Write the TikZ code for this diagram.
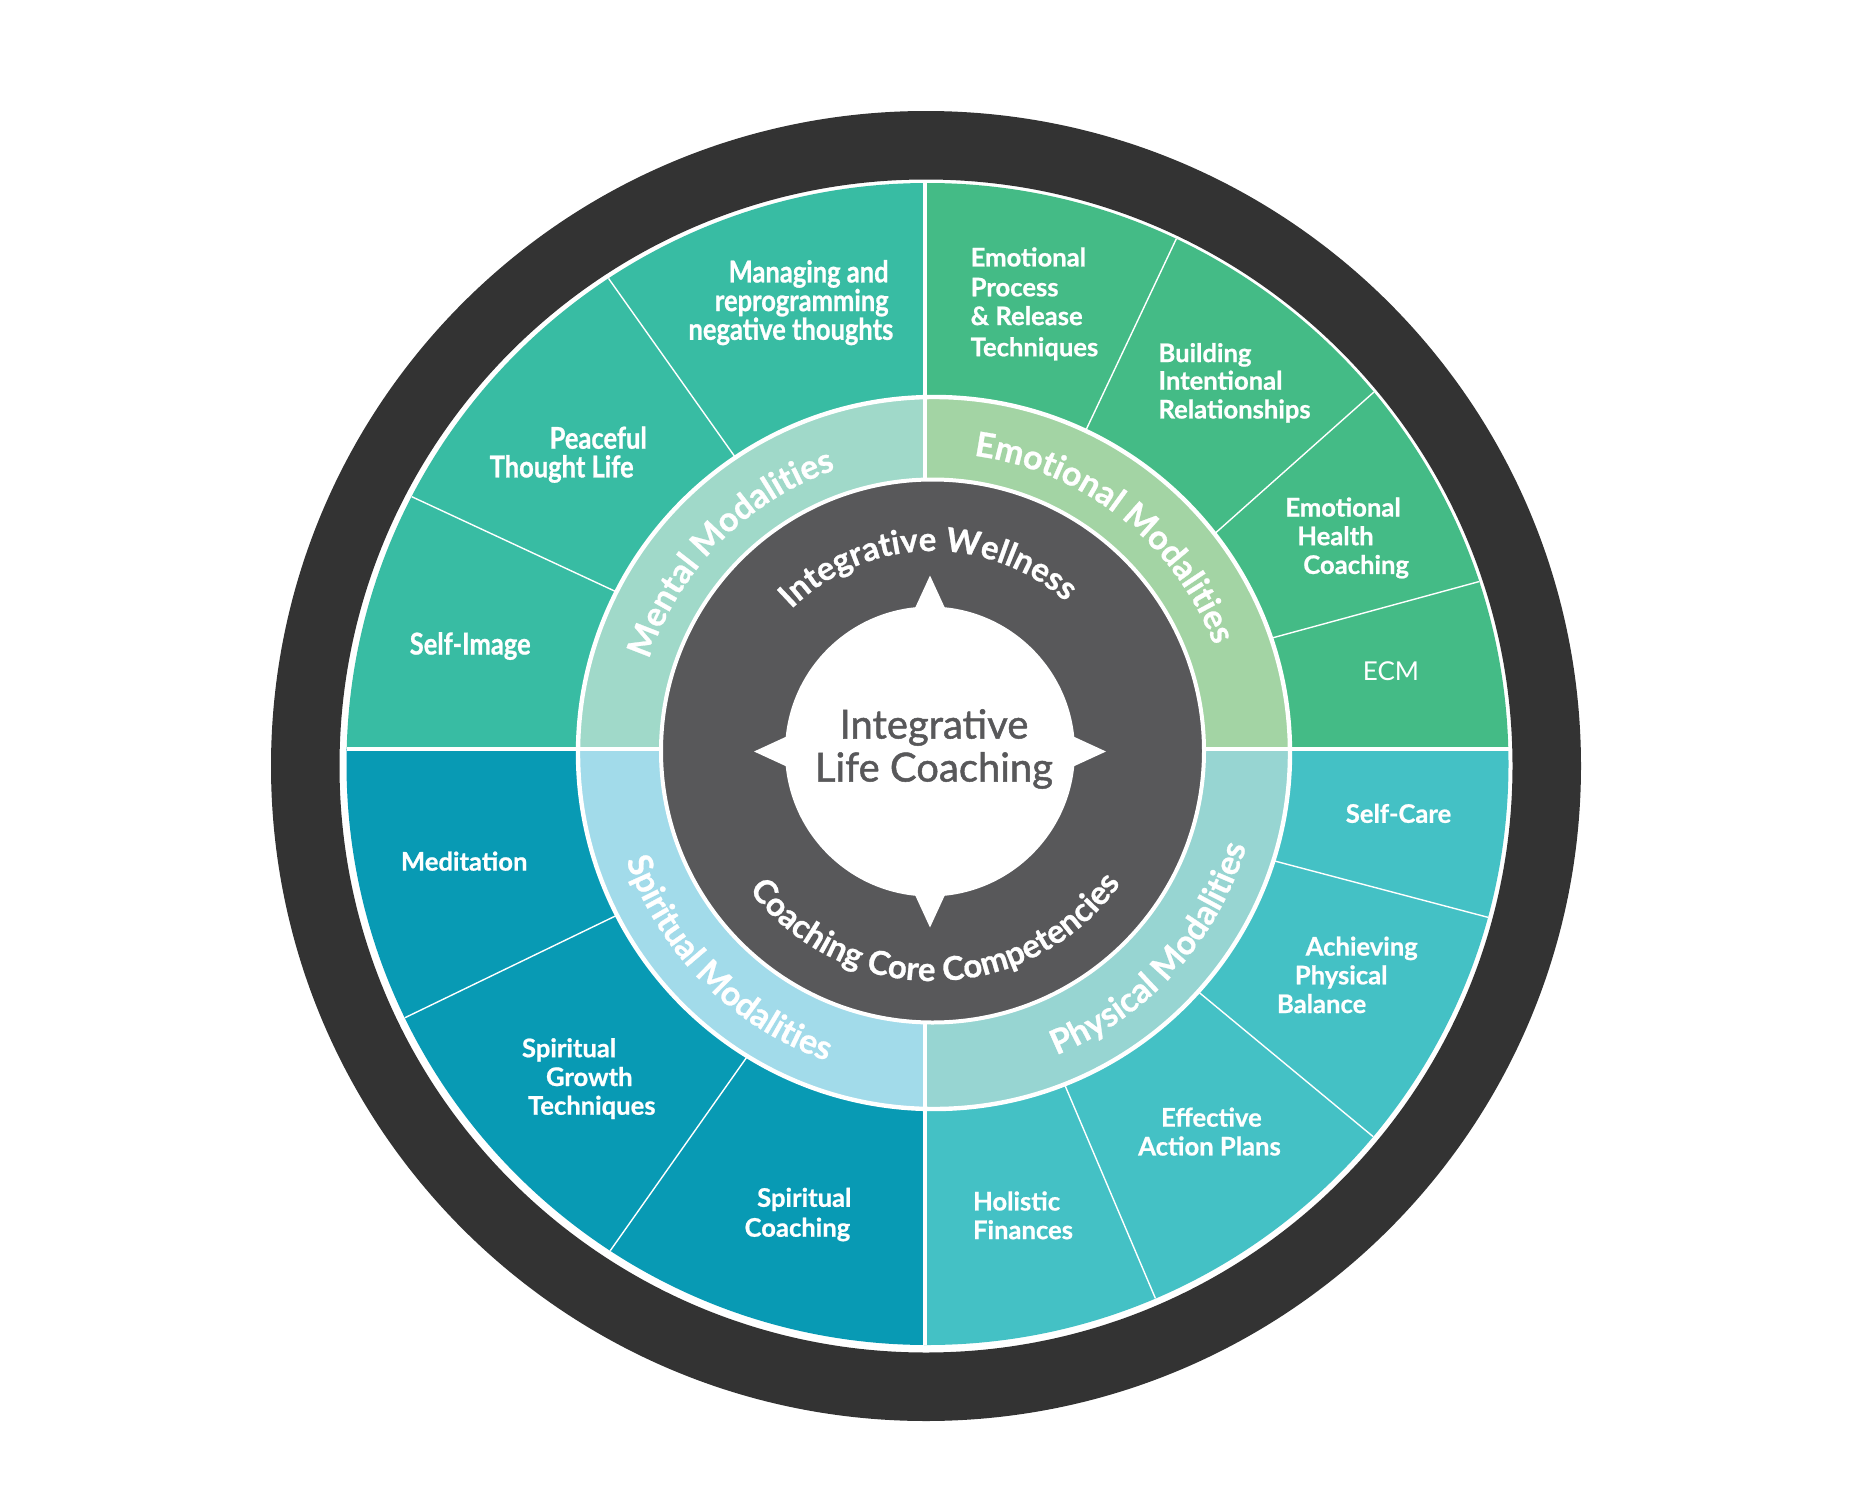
\documentclass[tikz,border=0pt]{standalone}
\usepackage{fontspec}
\setmainfont{Lato}[BoldFeatures={FakeBold=0.8}]
\newfontfamily\condfont{Lato}[FakeStretch=0.85, BoldFeatures={FakeBold=0.8}]
\newfontfamily\medfont{Lato}[FakeBold=1.2]
\usetikzlibrary{decorations.text}
\definecolor{darkring}{HTML}{333333}
\definecolor{innerdark}{HTML}{58585A}
\definecolor{mentalc}{HTML}{38BCA3}
\definecolor{emoc}{HTML}{44BB86}
\definecolor{spirc}{HTML}{089AB4}
\definecolor{physc}{HTML}{44C1C5}
\definecolor{mentalr}{HTML}{A0D9C9}
\definecolor{emor}{HTML}{A3D4A4}
\definecolor{spirr}{HTML}{A2DBEA}
\definecolor{physr}{HTML}{97D5D2}
\newcommand\segfnt{\fontsize{12.8}{15}\selectfont\bfseries}
\newcommand\condfnt{\condfont\fontsize{15}{17}\selectfont\bfseries}
\newcommand\ringfnt{\fontsize{17}{20}\selectfont\bfseries}
\newcommand\corefnt{\fontsize{16.5}{19}\selectfont\bfseries}
\begin{document}
\begin{tikzpicture}[x=0.5pt,y=0.5pt,
  seg/.style={text=white, font=\segfnt, inner sep=0pt, text height=9.2pt, text depth=0pt},
  cond/.style={text=white, font=\condfnt, inner sep=0pt, text height=10.8pt, text depth=0pt},
  thinsep/.style={white, line width=0.7pt},
  thicksep/.style={white, line width=2pt},
  ringlabel/.style={decorate, decoration={text along path, text align=center, text color=white, text={|\ringfnt|#1}}},
  corelabel/.style={decorate, decoration={text along path, text align=center, text color=white, text={|\corefnt|#1}}}
]
\useasboundingbox (0,0) rectangle (1876,-1499);
\coordinate (O) at (927.5,-764);
\coordinate (M) at (934,-753);
\coordinate (D) at (932.5,-751);
\coordinate (C) at (930,-751.5);
\coordinate (R) at (926,-766);

% outer dark ring
\draw[darkring, line width=34.25pt] (R) circle[radius=620.75];

% quadrant fills
\begin{scope}
  \clip (0,0) rectangle (925,-749);
  \fill[mentalc] (O) circle[radius=581];
  \fill[mentalr] (M) circle[radius=356];
\end{scope}
\begin{scope}
  \clip (925,0) rectangle (1876,-749);
  \fill[emoc] (O) circle[radius=581];
  \fill[emor] (M) circle[radius=356];
\end{scope}
\begin{scope}
  \clip (0,-749) rectangle (925,-1499);
  \fill[spirc] (O) circle[radius=581];
  \fill[spirr] (M) circle[radius=356];
\end{scope}
\begin{scope}
  \clip (925,-749) rectangle (1876,-1499);
  \fill[physc] (O) circle[radius=581];
  \fill[physr] (M) circle[radius=356];
\end{scope}

% thin dividers between sub-segments
\foreach \ai/\ao in {123.9/123.3, 153.1/152.6, 64.8/64.65, 38.0/39.8, 18.8/18.3,
                     207.1/205.9, 238.4/236.9, -17.6/-15.3, -42.1/-39.9, -68.5/-66.9}
  \draw[thinsep] ([shift={(\ai:356)}]M) -- ([shift={(\ao:581)}]O);

% quadrant dividers
\draw[thicksep] (925,-183) -- (925,-1345);
\draw[thicksep] (346.5,-749) -- (1508.5,-749);

% ring outline
\draw[white, line width=2.2pt] (M) circle[radius=356];

% inner dark disc
\fill[innerdark] (D) circle[radius=271.5];
\draw[white, line width=2pt] (D) circle[radius=271.5];

% compass
\fill[white] (C) circle[radius=145];
\foreach \a in {0,90,180,270}
  \fill[white] ([shift={(\a:176)}]C) -- ([shift={(\a+6.5:142)}]C) -- ([shift={(\a-6.5:142)}]C) -- cycle;

\node[font=\medfont\fontsize{20}{21.5}\selectfont, text=innerdark, align=center, inner sep=0pt] (center) at (934,-749) {Integrative\\Life Coaching};

% curved labels
\path[ringlabel={Mental Modalities}] ([shift={(195.5:300)}]M) arc[start angle=195.5, end angle=75.5, radius=300];
\path[ringlabel={Emotional Modalities}] ([shift={(111.7:300)}]M) arc[start angle=111.7, end angle=-8.3, radius=300];
\path[ringlabel={Spiritual Modalities}] ([shift={(165:326)}]M) arc[start angle=165, end angle=285, radius=326];
\path[ringlabel={Physical Modalities}] ([shift={(257.7:326)}]M) arc[start angle=257.7, end angle=377.7, radius=326];
\path[corelabel={Integrative Wellness}] ([shift={(171.5:200)}]D) arc[start angle=171.5, end angle=11.5, radius=200];
\path[corelabel={Coaching Core Competencies}] ([shift={(196:230)}]D) arc[start angle=196, end angle=346, radius=230];

% Mental
\node[cond, anchor=east] (m1) at (889,-271.6) {Managing and};
\node[cond, anchor=east] (m2) at (889,-300.3) {reprogramming};
\node[cond, anchor=east] (m3) at (893.7,-329.0) {negative thoughts};
\node[cond] (m4) at (598.2,-437.9) {Peaceful};
\node[cond] (m5) at (561.7,-466.6) {Thought Life};
\node[cond] (m6) at (470.2,-643.7) {Self-Image};

% Emotional
\node[seg, anchor=west] (e1) at (970.3,-257.2) {Emotional};
\node[seg, anchor=west] (e2) at (970.3,-287.1) {Process};
\node[seg, anchor=west] (e3) at (970.3,-315.9) {\& Release};
\node[seg, anchor=west] (e4) at (970.3,-347.0) {Techniques};
\node[seg, anchor=west] (e5) at (1158.1,-352.9) {Building};
\node[seg, anchor=west] (e6) at (1158.1,-380.5) {Intentional};
\node[seg, anchor=west] (e7) at (1158.1,-409.2) {Relationships};
\node[seg, anchor=west] (e8) at (1285,-507.3) {Emotional};
\node[seg, anchor=west] (e9) at (1296.9,-536) {Health};
\node[seg, anchor=west] (e10) at (1302.9,-564.7) {Coaching};
\node[seg, font=\fontsize{13}{15}\selectfont] (e11) at (1391,-671.2) {ECM};

% Spiritual
\node[seg] (s1) at (464.2,-861.4) {Meditation};
\node[seg, anchor=west] (s2) at (521.6,-1048) {Spiritual};
\node[seg, anchor=west] (s3) at (545.6,-1076.8) {Growth};
\node[seg, anchor=west] (s4) at (527.6,-1105.5) {Techniques};
\node[seg, anchor=east] (s5) at (851.8,-1197.6) {Spiritual};
\node[seg, anchor=east] (s6) at (850.6,-1227.5) {Coaching};

% Physical
\node[seg] (p1) at (1398.5,-813.6) {Self-Care};
\node[seg, anchor=west] (p2) at (1305.3,-946.4) {Achieving};
\node[seg, anchor=west] (p3) at (1294.5,-975.1) {Physical};
\node[seg, anchor=west] (p4) at (1276.6,-1003.8) {Balance};
\node[seg] (p5) at (1211.4,-1117.4) {Effective};
\node[seg] (p6) at (1209.5,-1146.2) {Action Plans};
\node[seg, anchor=west] (p7) at (972.7,-1201.2) {Holistic};
\node[seg, anchor=west] (p8) at (972.7,-1229.9) {Finances};
\end{tikzpicture}
\end{document}
